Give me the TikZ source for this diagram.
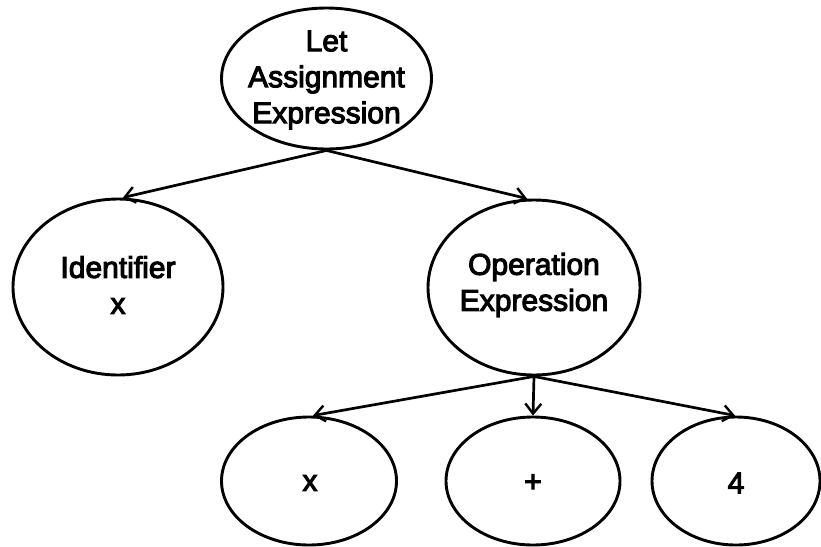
\documentclass[tikz,border=0pt]{standalone}
\usepackage{fontspec}
\setmainfont{Liberation Sans}
% slightly emboldened Arial-metric face for the labels
\font\lblfont="Liberation Sans:embolden=3.5" at 30pt
\usetikzlibrary{shapes.geometric,arrows.meta}
\begin{document}
\begin{tikzpicture}[x=1pt,y=-1pt,
  oval/.style={ellipse,draw=black,line width=2.9pt,inner sep=0pt,fill=white},
  lbl/.style={align=center,inner sep=0pt,font=\fontsize{30}{36}\selectfont\lblfont},
  edge/.style={draw=black,line width=2.7pt,
    -{Straight Barb[length=10pt,width=16pt,line width=2.4pt]}}]
  \useasboundingbox[fill=white] (0,0) rectangle (821,546);

  % parse tree nodes
  \node[oval,minimum width=210,minimum height=141] (let) at (326.5,78.5) {};
  \node[oval,minimum width=210,minimum height=176] (ident) at (118,287) {};
  \node[oval,minimum width=212,minimum height=175] (op) at (534,287.5) {};
  \node[oval,minimum width=175,minimum height=128] (vx) at (309,481) {};
  \node[oval,minimum width=174,minimum height=128] (plus) at (533,481) {};
  \node[oval,minimum width=168,minimum height=128] (four) at (736,481) {};

  % labels
  \node[lbl] (letl) at (326.5,80) {Let\\Assignment\\Expression};
  \node[lbl] (identl) at (118,285) {Identifier\\x};
  \node[lbl] (opl) at (534,285) {Operation\\Expression};
  \node[lbl] (vxl) at (310,483) {x};
  \node[lbl] (plusl) at (533,483) {+};
  \node[lbl] (fourl) at (736,483) {4};

  % edges
  \draw[edge] (let.south) -- ([xshift=5pt]ident.north);
  \draw[edge] (let.south) -- ([xshift=-7pt]op.north);
  \draw[edge] (op.south) -- ([xshift=4pt]vx.north);
  \draw[edge] (op.south) -- (plus.north);
  \draw[edge] (op.south) -- ([xshift=-1pt]four.north);
\end{tikzpicture}
\end{document}
